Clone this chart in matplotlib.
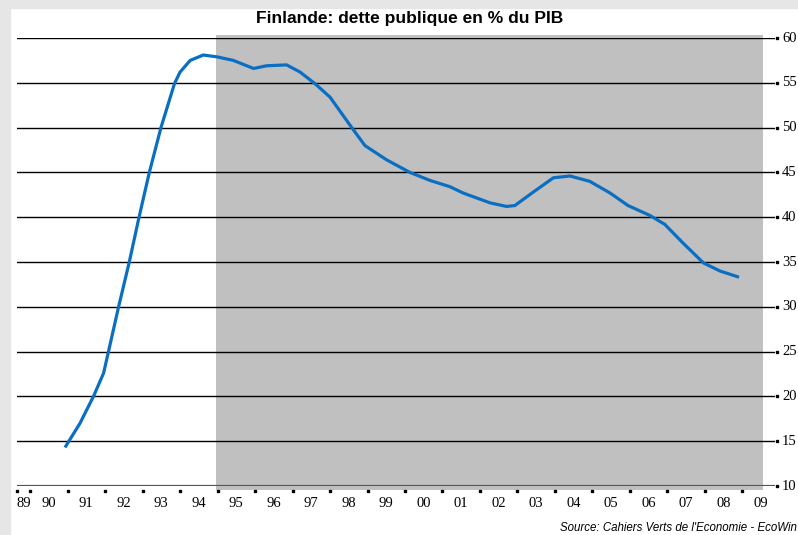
import matplotlib
matplotlib.use("Agg")
import matplotlib.pyplot as plt
from matplotlib.patches import Rectangle

# debt in % of GDP (decimal years)
years = [1990.93, 1991.33, 1991.69, 1991.96, 1992.09, 1992.36, 1992.64, 1992.90,
         1993.18, 1993.49, 1993.85, 1994.00, 1994.27, 1994.62, 1994.98, 1995.42,
         1995.96, 1996.31, 1996.84, 1997.20, 1997.60, 1998.00, 1998.58, 1998.93,
         1999.51, 2000.13, 2000.67, 2001.20, 2001.55, 2002.27, 2002.71, 2002.93,
         2003.42, 2003.96, 2004.40, 2004.93, 2005.47, 2005.95, 2006.53, 2006.93,
         2007.42, 2007.96, 2008.40, 2008.91]
debt = [14.3, 17.0, 20.0, 22.6, 25.0, 30.0, 34.9, 39.9,
        45.0, 50.0, 54.9, 56.2, 57.5, 58.1, 57.9, 57.5,
        56.6, 56.9, 57.0, 56.2, 54.9, 53.4, 50.0, 48.0,
        46.4, 45.0, 44.1, 43.4, 42.7, 41.6, 41.2, 41.3,
        42.8, 44.4, 44.6, 44.0, 42.7, 41.3, 40.2, 39.2,
        37.1, 34.9, 34.0, 33.3]

shade = (1994.96, 2009.56)
xlim = (1989.65, 2009.87)
yticks = [10, 15, 20, 25, 30, 35, 40, 45, 50, 55, 60]
year_ticks = [xlim[0]] + list(range(1990, 2010))
year_labels = ["89"] + ["%02d" % (y % 100) for y in range(1990, 2010)]
label_pos = [(xlim[0] + 1990) / 2] + [y + 0.5 for y in range(1990, 2010)]

fig = plt.figure(figsize=(7.98, 5.35), dpi=100)
fig.patch.set_facecolor("white")
fig.patches.append(Rectangle((0, 0), 10 / 798, 1, transform=fig.transFigure,
                             color="#e6e6e6", zorder=0))
fig.patches.append(Rectangle((0, 1 - 8 / 535), 1, 8 / 535, transform=fig.transFigure,
                             color="#e6e6e6", zorder=0))

ax = fig.add_axes([17 / 798, 1 - 486 / 535, 758 / 798, 448 / 535])
ax.set_facecolor("none")
ax.set_xlim(*xlim)
ax.set_ylim(10, 60)
for s in ax.spines.values():
    s.set_visible(False)

ax.axvspan(shade[0], shade[1], ymin=-0.009, ymax=1.007, color="#c0c0c0",
           clip_on=False, zorder=0, lw=0)

for v in yticks[1:]:
    ax.axhline(v, color="black", lw=1.0, zorder=1)
ax.axhline(10, color="#555555", lw=1.6, zorder=1)

ax.plot(years, debt, color="#0a6fc2", lw=2.3, zorder=3, solid_capstyle="butt")

# little square dots used as tick marks
ax.plot([1.003] * len(yticks), yticks, ls="none", marker="s", ms=2, color="black",
        transform=ax.get_yaxis_transform(), clip_on=False)
ax.plot(year_ticks, [-0.011] * len(year_ticks), ls="none", marker="s", ms=2,
        color="black", transform=ax.get_xaxis_transform(), clip_on=False)

ax.set_xticks([])
ax.set_yticks([])
for p, lab in zip(label_pos, year_labels):
    ax.text(p, -0.04, lab, transform=ax.get_xaxis_transform(), ha="center",
            va="center", family="Liberation Serif", fontsize=10.5)
for v in yticks:
    ax.text(1.0095, v, str(v), transform=ax.get_yaxis_transform(), ha="left",
            va="center", family="Liberation Serif", fontsize=10.5)

fig.text(410 / 798, 1 - 19 / 535, "Finlande: dette publique en % du PIB",
         ha="center", va="center", family="Liberation Sans", fontweight="bold",
         fontsize=12.5)
fig.text(797 / 798, 1 - 528 / 535, "Source: Cahiers Verts de l'Economie - EcoWin",
         ha="right", va="center", family="Liberation Sans", style="italic",
         fontsize=8.3)

fig.savefig("out.png", dpi=100)
